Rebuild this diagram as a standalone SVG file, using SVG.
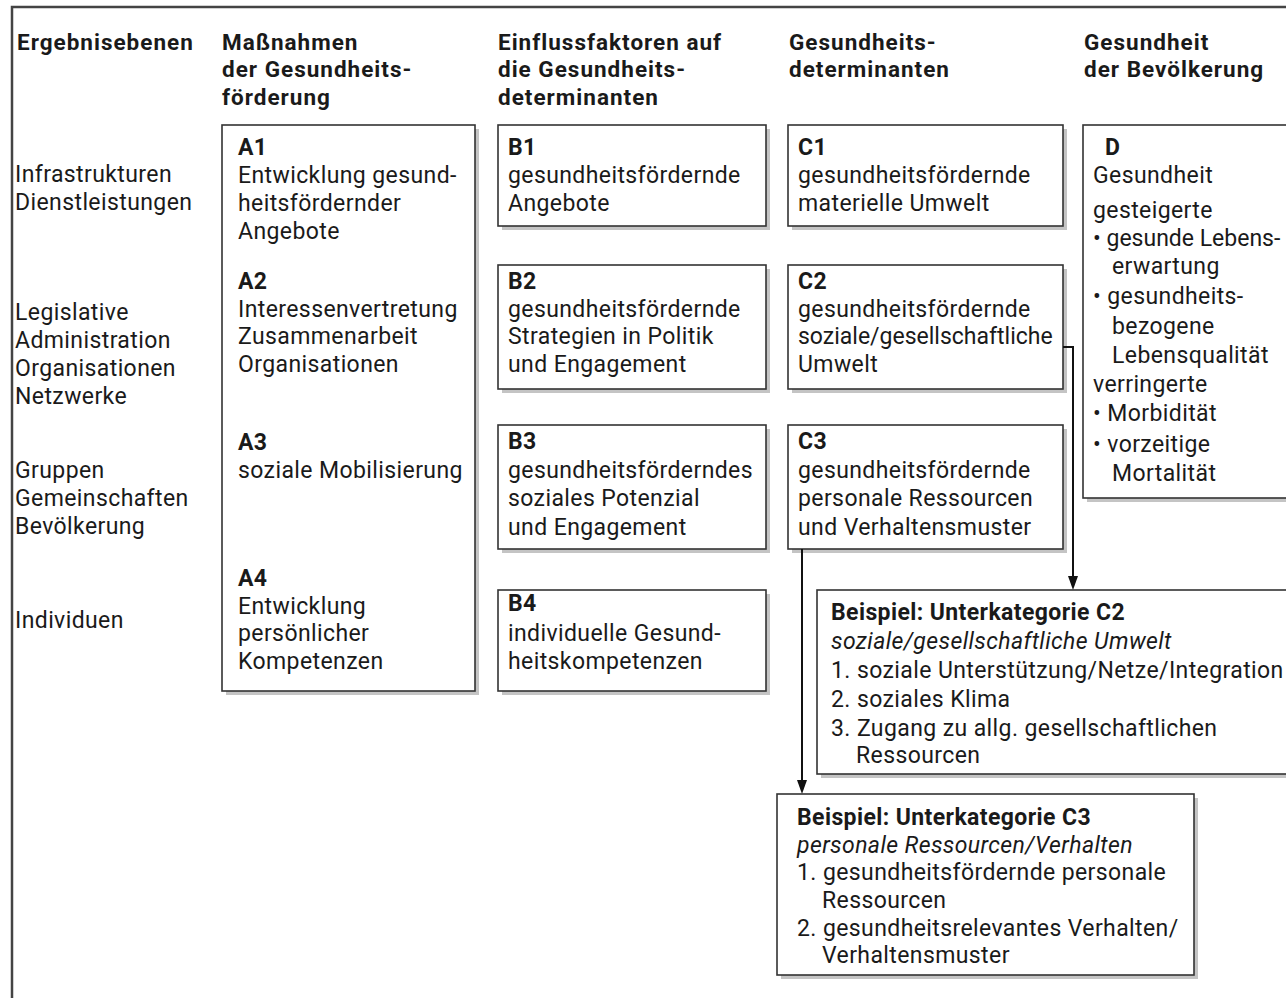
<svg xmlns="http://www.w3.org/2000/svg" width="1286" height="998" viewBox="0 0 1286 998">
<style>
text{font-family:Roboto,"Liberation Sans",sans-serif;font-size:23px;fill:#1a1a1a;letter-spacing:0.4px}
.b{font-weight:bold}
.h{font-weight:bold;font-size:22.5px;letter-spacing:1px}
.i{font-style:italic}
.tight{letter-spacing:0}
.box{fill:#fff;stroke:#333;stroke-width:1.6}
.sh{fill:#c4c4c4}
.con{fill:none;stroke:#111;stroke-width:2}
.ah{fill:#111}
</style>
<rect width="1286" height="998" fill="#fff"/>
<path d="M12,998 V7 H1286" fill="none" stroke="#444" stroke-width="2.5"/>

<g id="headers">
<text class="h" x="17" y="50">Ergebnisebenen</text>
<text class="h" x="222" y="50">Maßnahmen</text>
<text class="h" x="222" y="77">der Gesundheits-</text>
<text class="h" x="222" y="105">förderung</text>
<text class="h" x="498" y="50">Einflussfaktoren auf</text>
<text class="h" x="498" y="77">die Gesundheits-</text>
<text class="h" x="498" y="105">determinanten</text>
<text class="h" x="789" y="50">Gesundheits-</text>
<text class="h" x="789" y="77">determinanten</text>
<text class="h" x="1084" y="50">Gesundheit</text>
<text class="h" x="1084" y="77">der Bevölkerung</text>
</g>

<g id="rows">
<text x="15" y="182">Infrastrukturen</text>
<text x="15" y="210">Dienstleistungen</text>
<text x="15" y="320">Legislative</text>
<text x="15" y="348">Administration</text>
<text x="15" y="376">Organisationen</text>
<text x="15" y="404">Netzwerke</text>
<text x="15" y="478">Gruppen</text>
<text x="15" y="506">Gemeinschaften</text>
<text x="15" y="534">Bevölkerung</text>
<text x="15" y="628">Individuen</text>
</g>

<g id="A">
<rect class="sh" x="226" y="129" width="253" height="566"/>
<rect class="box" x="222" y="125" width="253" height="566"/>
<text class="b" x="238" y="155">A1</text>
<text x="238" y="183">Entwicklung gesund-</text>
<text x="238" y="211">heitsfördernder</text>
<text x="238" y="239">Angebote</text>
<text class="b" x="238" y="289">A2</text>
<text x="238" y="317">Interessenvertretung</text>
<text x="238" y="344">Zusammenarbeit</text>
<text x="238" y="372">Organisationen</text>
<text class="b" x="238" y="450">A3</text>
<text x="238" y="478">soziale Mobilisierung</text>
<text class="b" x="238" y="586">A4</text>
<text x="238" y="614">Entwicklung</text>
<text x="238" y="641">persönlicher</text>
<text x="238" y="669">Kompetenzen</text>
</g>

<g id="B1">
<rect class="sh" x="502" y="129" width="268" height="101"/>
<rect class="box" x="498" y="125" width="268" height="101"/>
<text class="b" x="508" y="155">B1</text>
<text x="508" y="183">gesundheitsfördernde</text>
<text x="508" y="211">Angebote</text>
</g>
<g id="B2">
<rect class="sh" x="502" y="269" width="268" height="124"/>
<rect class="box" x="498" y="265" width="268" height="124"/>
<text class="b" x="508" y="289">B2</text>
<text x="508" y="317">gesundheitsfördernde</text>
<text x="508" y="344">Strategien in Politik</text>
<text x="508" y="372">und Engagement</text>
</g>
<g id="B3">
<rect class="sh" x="502" y="429" width="268" height="124"/>
<rect class="box" x="498" y="425" width="268" height="124"/>
<text class="b" x="508" y="449">B3</text>
<text x="508" y="478">gesundheitsförderndes</text>
<text x="508" y="506">soziales Potenzial</text>
<text x="508" y="535">und Engagement</text>
</g>
<g id="B4">
<rect class="sh" x="502" y="594" width="268" height="101"/>
<rect class="box" x="498" y="590" width="268" height="101"/>
<text class="b" x="508" y="611">B4</text>
<text x="508" y="641">individuelle Gesund-</text>
<text x="508" y="669">heitskompetenzen</text>
</g>

<g id="C1">
<rect class="sh" x="792" y="129" width="275" height="101"/>
<rect class="box" x="788" y="125" width="275" height="101"/>
<text class="b" x="798" y="155">C1</text>
<text x="798" y="183">gesundheitsfördernde</text>
<text x="798" y="211">materielle Umwelt</text>
</g>
<g id="C2">
<rect class="sh" x="792" y="269" width="275" height="124"/>
<rect class="box" x="788" y="265" width="275" height="124"/>
<text class="b" x="798" y="289">C2</text>
<text x="798" y="317">gesundheitsfördernde</text>
<text class="tight" x="798" y="344">soziale/gesellschaftliche</text>
<text x="798" y="372">Umwelt</text>
</g>
<g id="C3">
<rect class="sh" x="792" y="429" width="275" height="124"/>
<rect class="box" x="788" y="425" width="275" height="124"/>
<text class="b" x="798" y="449">C3</text>
<text x="798" y="478">gesundheitsfördernde</text>
<text x="798" y="506">personale Ressourcen</text>
<text x="798" y="535">und Verhaltensmuster</text>
</g>

<g id="D">
<rect class="sh" x="1087" y="129" width="210" height="373"/>
<rect class="box" x="1083" y="125" width="210" height="373"/>
<text class="b" x="1105" y="155">D</text>
<text x="1093" y="183">Gesundheit</text>
<text x="1093" y="218">gesteigerte</text>
<text class="tight" x="1093" y="246">• gesunde Lebens-</text>
<text x="1112" y="274">erwartung</text>
<text x="1093" y="304">• gesundheits-</text>
<text x="1112" y="334">bezogene</text>
<text x="1112" y="363">Lebensqualität</text>
<text x="1093" y="392">verringerte</text>
<text x="1093" y="421">• Morbidität</text>
<text x="1093" y="452">• vorzeitige</text>
<text x="1112" y="481">Mortalität</text>
</g>

<g id="connectors">
<path class="con" d="M1063,347 H1073 V578"/>
<polygon class="ah" points="1068,576 1078,576 1073,590"/>
<path class="con" d="M802,549 V782"/>
<polygon class="ah" points="797,780 807,780 802,794"/>
</g>

<g id="ExC2">
<rect class="sh" x="821" y="594" width="480" height="184"/>
<rect class="box" x="817" y="590" width="480" height="184"/>
<text class="b" x="831" y="620">Beispiel: Unterkategorie C2</text>
<text class="i" x="831" y="649">soziale/gesellschaftliche Umwelt</text>
<text x="831" y="678">1. soziale Unterstützung/Netze/Integration</text>
<text x="831" y="707">2. soziales Klima</text>
<text x="831" y="736">3. Zugang zu allg. gesellschaftlichen</text>
<text x="856" y="763">Ressourcen</text>
</g>

<g id="ExC3">
<rect class="sh" x="781" y="798" width="417" height="181"/>
<rect class="box" x="777" y="794" width="417" height="181"/>
<text class="b" x="797" y="825">Beispiel: Unterkategorie C3</text>
<text class="i" x="797" y="853">personale Ressourcen/Verhalten</text>
<text x="797" y="880">1. gesundheitsfördernde personale</text>
<text x="822" y="908">Ressourcen</text>
<text x="797" y="936">2. gesundheitsrelevantes Verhalten/</text>
<text x="822" y="963">Verhaltensmuster</text>
</g>
</svg>
